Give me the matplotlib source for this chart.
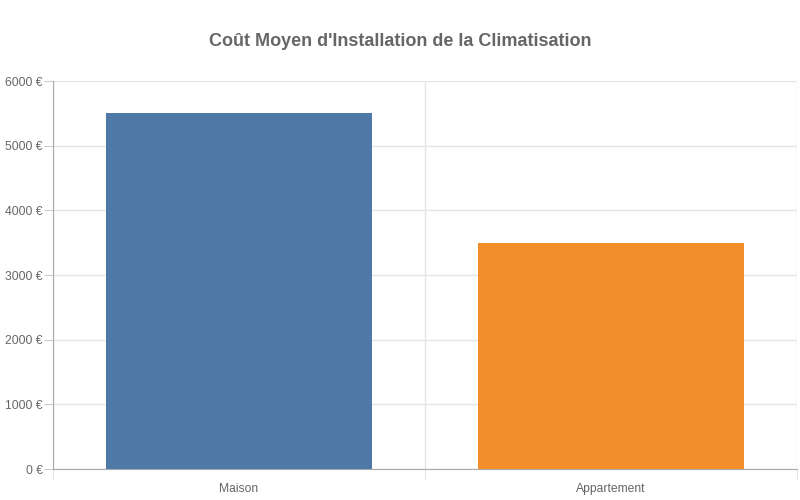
import numpy as np
import matplotlib
matplotlib.use("Agg")
import matplotlib.pyplot as plt

# Data
categories = ["Maison", "Appartement"]
costs = [5500, 3500]
colors = ["#4e79a7", "#f28e2b"]
yticks = [0, 1000, 2000, 3000, 4000, 5000, 6000]

plt.rcParams['font.family'] = ['Liberation Sans', 'DejaVu Sans']

fig = plt.figure(figsize=(8, 5), dpi=100)
ax = fig.add_axes([53/800, 1-469/500, 744/800, 388/500])

x = np.arange(len(categories))
ax.bar(x, costs, width=0.715, color=colors, zorder=3)

# y axis
ax.set_ylim(0, 6000)
ax.set_yticks(yticks)
ax.set_yticklabels(["%d €" % v for v in yticks])
ax.tick_params(axis='y', length=6.5, color='#cccccc', labelsize=8.7, labelcolor='#666666', pad=1)

# x axis: labels at centers, grid at boundaries
ax.set_xlim(-0.5, len(categories) - 0.5)
ax.set_xticks(x)
ax.set_xticklabels(categories)
ax.set_xticks(np.arange(len(categories) + 1) - 0.5, minor=True)
ax.tick_params(axis='x', which='major', length=0, labelsize=8.7, labelcolor='#666666', pad=10)
ax.tick_params(axis='x', which='minor', length=7, color='#dddddd')

ax.grid(axis='y', color='#e5e5e5', linewidth=1, zorder=0)
ax.grid(axis='x', which='minor', color='#e5e5e5', linewidth=1, zorder=0)

for s in ['top', 'right']:
    ax.spines[s].set_visible(False)
ax.spines['left'].set_color('#aaaaaa')
ax.spines['bottom'].set_color('#aaaaaa')

fig.text(0.5, 1-41/500, "Coût Moyen d'Installation de la Climatisation",
         ha='center', va='center', fontsize=13, fontweight='bold', color='#666666')

fig.savefig("out.png", dpi=100)
